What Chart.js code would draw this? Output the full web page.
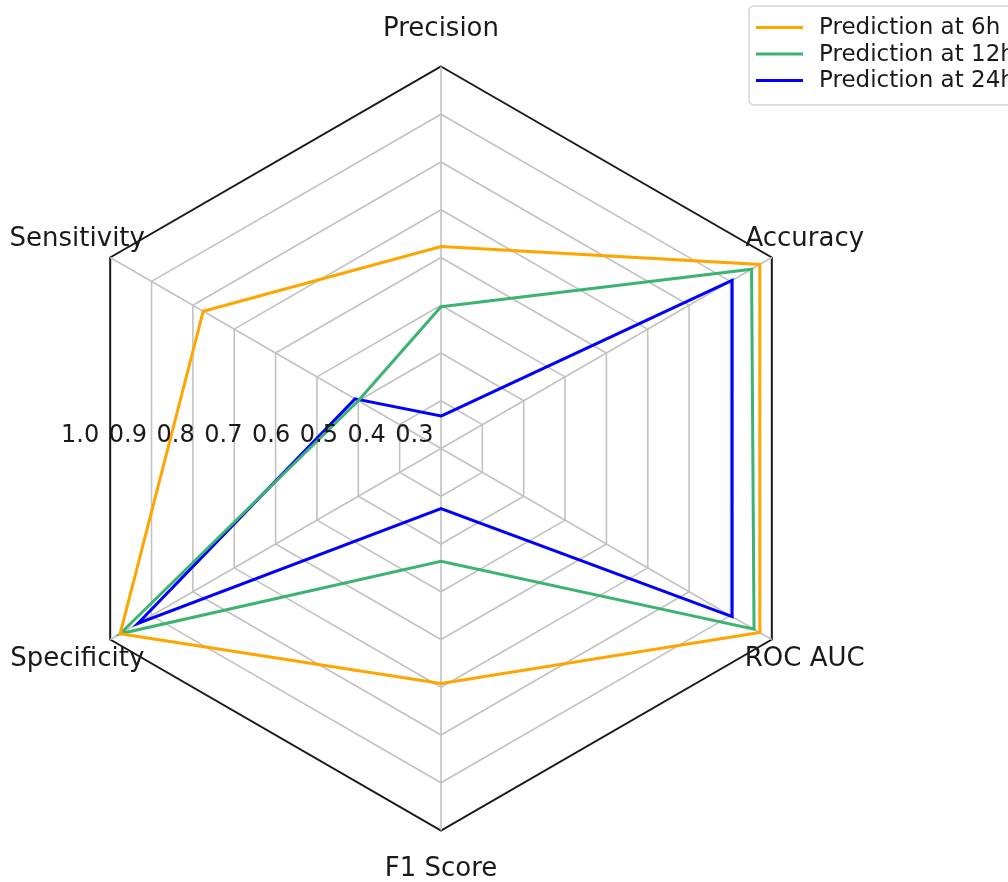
<!DOCTYPE html>
<html>
<head>
<meta charset="utf-8">
<title>Prediction radar</title>
<script src="https://cdn.jsdelivr.net/npm/chart.js@4.4.1/dist/chart.umd.min.js"></script>
<style>
    html, body { margin: 0; padding: 0; background: #fff; overflow: hidden; }
    #wrap { width: 1008px; height: 882px; position: relative; }
</style>
</head>
<body>
<div id="wrap"><canvas id="radarChart"></canvas></div>
<script>
const metrics = ['Precision', 'Accuracy', 'ROC AUC', 'F1 Score', 'Specificity', 'Sensitivity'];
const pred6h = [0.623, 0.971, 0.971, 0.692, 0.976, 0.775];
const pred12h = [0.497, 0.951, 0.957, 0.436, 0.976, 0.400];
const pred24h = [0.268, 0.904, 0.904, 0.326, 0.933, 0.408];
const seriesNames = ['Prediction at 6h', 'Prediction at 12h', 'Prediction at 24h'];
const seriesColors = ['#ffa500', '#3cb371', '#0000ff'];
const tickLabels = [1.0, 0.9, 0.8, 0.7, 0.6, 0.5, 0.4, 0.3];

const textColor = '#1a1a1a';
const gridGray = '#c2c2c2';

// axis names, radial tick labels and the legend are painted by hand
const overlayPlugin = {
    id: 'overlay',
    afterDatasetsDraw(chart) {
        const ctx = chart.ctx;
        const r = chart.scales.r;
        ctx.save();
        ctx.fillStyle = textColor;
        ctx.textBaseline = 'middle';

        ctx.font = '26px "DejaVu Sans"';
        ctx.textAlign = 'center';
        metrics.forEach((name, i) => {
            const p = r.getPointPosition(i, r.drawingArea + 38);
            ctx.fillText(name, p.x, p.y + 1);
        });

        ctx.font = '24px "DejaVu Sans"';
        ctx.textAlign = 'left';
        tickLabels.forEach(v => {
            const d = r.getDistanceFromCenterForValue(v);
            ctx.fillText(v.toFixed(1), r.xCenter - d + 2, r.yCenter - 13);
        });
        ctx.restore();
    },
    afterDraw(chart) {
        const ctx = chart.ctx;
        ctx.save();
        ctx.fillStyle = 'rgba(255,255,255,0.85)';
        ctx.strokeStyle = '#d4d4d4';
        ctx.lineWidth = 1.5;
        ctx.beginPath();
        ctx.roundRect(749, 6, 300, 99, 5);
        ctx.fill();
        ctx.stroke();

        ctx.font = '23px "DejaVu Sans"';
        ctx.textAlign = 'left';
        ctx.textBaseline = 'middle';
        chart.data.datasets.forEach((ds, i) => {
            const y = 27.5 + i * 26.5;
            ctx.strokeStyle = ds.borderColor;
            ctx.lineWidth = 3;
            ctx.beginPath();
            ctx.moveTo(756, y);
            ctx.lineTo(803, y);
            ctx.stroke();
            ctx.fillStyle = textColor;
            ctx.fillText(ds.label, 819, y + 1);
        });
        ctx.restore();
    }
};

const seriesValues = [pred6h, pred12h, pred24h];

const chart = new Chart(document.getElementById('radarChart'), {
    type: 'radar',
    data: {
        labels: metrics,
        datasets: seriesValues.map((vals, i) => ({
            label: seriesNames[i],
            data: vals,
            borderColor: seriesColors[i],
            backgroundColor: 'transparent',
            fill: false,
            borderWidth: 3
        }))
    },
    options: {
        responsive: true,
        maintainAspectRatio: false,
        animation: false,
        elements: {
            line: { tension: 0 },
            point: { radius: 0, hoverRadius: 0 }
        },
        plugins: {
            legend: { display: false },
            tooltip: { enabled: false }
        },
        scales: {
            r: {
                min: 0.2,
                max: 1.0,
                beginAtZero: false,
                ticks: { stepSize: 0.1, display: false },
                pointLabels: { display: false },
                grid: {
                    color: c => (c.tick && c.tick.value > 0.99) ? '#1a1a1a' : gridGray,
                    lineWidth: c => (c.tick && c.tick.value > 0.99) ? 2 : 1.6
                },
                angleLines: { color: gridGray, lineWidth: 1.6 },
                afterFit: scale => {
                    scale.xCenter = 441;
                    scale.yCenter = 448.5;
                    scale.drawingArea = 382;
                }
            }
        }
    },
    plugins: [overlayPlugin]
});
</script>
</body>
</html>
